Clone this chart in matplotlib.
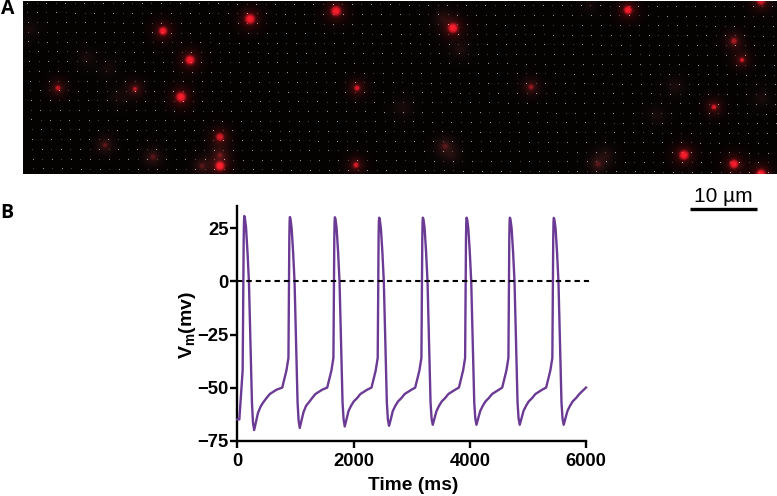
import numpy as np
import matplotlib
matplotlib.use("Agg")
import matplotlib.pyplot as plt

W, H = 777, 496

plt.rcParams['font.family'] = ['Liberation Sans', 'DejaVu Sans']
plt.rcParams['mathtext.fontset'] = 'custom'
plt.rcParams['mathtext.bf'] = 'Liberation Sans:bold'
plt.rcParams['mathtext.rm'] = 'Liberation Sans:bold'

# panel A, spot centres in image pixels, radius and brightness read by eye
spot_x = [163, 250, 190, 181, 58, 135, 220, 220, 220, 105, 153, 202,
          336, 453, 357, 356, 445, 443, 460, 403, 452,
          628, 761, 734, 742, 531, 714, 684, 734, 761, 598, 606, 675, 657, 761,
          86, 118, 108, 30, 590]
spot_y = [31, 19, 60, 97, 88, 89, 137, 155, 166, 145, 157, 166,
          11, 28, 88, 165, 146, 18, 50, 108, 155,
          10, 1, 41, 60, 87, 107, 155, 164, 174, 164, 155, 86, 115, 98,
          58, 97, 68, 30, 5]
spot_r = [3.0, 3.6, 3.4, 3.6, 1.8, 1.6, 2.8, 1.6, 3.4, 1.6, 2.0, 1.8,
          3.6, 3.6, 2.0, 2.0, 2.0, 3.0, 3.0, 4.0, 3.0,
          3.0, 3.0, 2.2, 1.6, 1.8, 1.9, 3.5, 3.2, 3.4, 2.0, 3.0, 3.0, 3.0, 3.0,
          3.0, 3.0, 3.0, 3.0, 3.0]
spot_amp = [1.0, 1.0, 1.0, 1.0, 0.85, 0.8, 0.9, 0.5, 1.0, 0.5, 0.45, 0.45,
            1.0, 1.0, 0.9, 0.9, 0.45, 0.18, 0.16, 0.14, 0.16,
            1.0, 0.9, 0.75, 0.9, 0.7, 0.9, 1.0, 1.0, 1.0, 0.45, 0.16, 0.16, 0.14, 0.14,
            0.13, 0.12, 0.12, 0.12, 0.12]

# panel B, membrane potential trace, one row per action potential
time_ms = [
    0, 35, 92, 95, 100, 105, 110, 115, 120, 130, 150, 175, 200, 225, 252, 270, 290, 315, 355, 400, 445, 500, 560, 675, 773,
    845, 880, 885, 890, 895, 900, 905, 915, 935, 960, 985, 1010, 1037, 1055, 1075, 1100, 1140, 1185, 1230, 1285, 1345, 1460, 1547,
    1619, 1654, 1659, 1664, 1669, 1674, 1679, 1689, 1709, 1734, 1759, 1784, 1811, 1829, 1849, 1874, 1914, 1959, 2004, 2059, 2119, 2234, 2309,
    2381, 2416, 2421, 2426, 2431, 2436, 2441, 2451, 2471, 2496, 2521, 2546, 2573, 2591, 2611, 2636, 2676, 2721, 2766, 2821, 2881, 2996, 3061,
    3133, 3168, 3173, 3178, 3183, 3188, 3193, 3203, 3223, 3248, 3273, 3298, 3325, 3343, 3363, 3388, 3428, 3473, 3518, 3573, 3633, 3748, 3813,
    3885, 3920, 3925, 3930, 3935, 3940, 3945, 3955, 3975, 4000, 4025, 4050, 4077, 4095, 4115, 4140, 4180, 4225, 4270, 4325, 4385, 4500, 4558,
    4630, 4665, 4670, 4675, 4680, 4685, 4690, 4700, 4720, 4745, 4770, 4795, 4822, 4840, 4860, 4885, 4925, 4970, 5015, 5070, 5130, 5245, 5314,
    5386, 5421, 5426, 5431, 5436, 5441, 5446, 5456, 5476, 5501, 5526, 5551, 5578, 5596, 5616, 5641, 5681, 5726, 5771, 5826, 5886, 6000,
]
voltage_mv = [
    -65, -65, -42, -33, -15, 5, 20, 28, 30.8, 30, 25.5, 14, 0, -27, -57, -66.5, -70, -67, -62, -59, -57, -55, -53, -51, -50,
    -42, -36, -15, 5, 20, 28, 30.3, 29.5, 25, 14, 0, -27, -57, -65.5, -69, -66, -61.5, -58.5, -57, -55, -53, -51, -50,
    -42, -36, -15, 5, 20, 28, 30.2, 29.5, 25, 14, 0, -27, -57, -65, -68.3, -65.5, -61, -58.5, -56.5, -55, -53, -51, -50,
    -42, -36, -15, 5, 20, 28, 30, 29.3, 25, 14, 0, -27, -57, -65, -68, -65.5, -61, -58.5, -56.5, -55, -53, -51, -50,
    -42, -36, -15, 5, 20, 28, 30, 29.3, 25, 14, 0, -27, -57, -64.5, -67.5, -65, -61, -58.5, -56.5, -55, -53, -51, -50,
    -42, -36, -15, 5, 20, 28, 30, 29.3, 25, 14, 0, -27, -57, -64.5, -67.5, -65, -61, -58.5, -56.5, -55, -53, -51, -50,
    -42, -36, -15, 5, 20, 28, 30, 29.3, 25, 14, 0, -27, -57, -64.5, -67.5, -65, -61, -58.5, -56.5, -55, -53, -51, -50,
    -42, -36, -15, 5, 20, 28, 29.9, 29.2, 25, 14, 0, -27, -57, -64.5, -67.5, -65, -61, -58.5, -56.5, -55, -53, -50,
]

x_ticks = [0, 2000, 4000, 6000]
y_ticks = [-75, -50, -25, 0, 25]


def px_axes(fig, x0, y0, x1, y1):
    # y measured from the top of the picture
    return fig.add_axes([x0 / W, 1 - y1 / H, (x1 - x0) / W, (y1 - y0) / H])


fig = plt.figure(figsize=(W / 100, H / 100), dpi=100)

# panel A
ax_img = px_axes(fig, 23, 1, 777, 174)
xx, yy = np.meshgrid(np.arange(23, 777) + 0.5, np.arange(1, 174) + 0.5)
img = np.zeros(xx.shape + (3,))
img[..., 0] = 0.02
img[..., 1] = 0.01
img[..., 2] = 0.01

# lattice of faint points, written into the image so they stay one pixel wide
col, row = np.meshgrid(np.arange(80), np.arange(18))
dot_x = np.round(4 + col * 9.55 + row * 0.35).astype(int)
dot_y = np.round(1.5 + row * 9.75 + col * 0.05).astype(int)
keep = (dot_x < xx.shape[1]) & (dot_y < xx.shape[0])
level = np.where((col + row) % 2 == 0, 0.62, 0.26)
img[dot_y[keep], dot_x[keep], :] += level[keep][:, None]

for x, y, r, a in zip(spot_x, spot_y, spot_r, spot_amp):
    d2 = (xx - x) ** 2 + (yy - y) ** 2
    dim = 1 - a
    core = a ** 2 * np.exp(-(d2 / (r * 1.35) ** 2) ** 2)
    mid = a * 0.28 * np.exp(-d2 / (2 * (r + 1.5) ** 2))
    halo = a * (0.2 + 0.25 * dim) * np.exp(-d2 / (2 * (r + 5.5) ** 2))
    img[..., 0] += 0.62 * core + 0.7 * mid + 0.7 * halo
    img[..., 1] += 0.07 * core + (0.05 + 0.15 * dim) * mid + (0.08 + 0.40 * dim) * halo
    img[..., 2] += 0.12 * core + (0.08 + 0.12 * dim) * mid + (0.10 + 0.34 * dim) * halo
ax_img.imshow(np.clip(img, 0, 1), extent=(23, 777, 174, 1), aspect='auto',
              interpolation='bilinear')
ax_img.set_xlim(23, 777)
ax_img.set_ylim(174, 1)
ax_img.axis('off')

fig.text(1 / W, 1 - 8.5 / H, 'A', fontsize=14, fontweight='bold', family='Open Sans',
         ha='left', va='center')
fig.text(0 / W, 1 - 212.5 / H, 'B', fontsize=14, fontweight='bold', family='Open Sans',
         ha='left', va='center')

# scale bar
fig.add_artist(plt.Line2D([690 / W, 757 / W], [1 - 209 / H, 1 - 209 / H],
                          color='black', lw=2.4, solid_capstyle='butt'))
fig.text(723.5 / W, 1 - 201.5 / H, '10 \u00b5m', fontsize=15, ha='center', va='baseline',
         family=['Liberation Sans', 'DejaVu Sans'])

# panel B
ax = px_axes(fig, 237.3, 206, 586, 440.7)
ax.plot(time_ms, voltage_mv, color='#6b3a94', lw=1.7, clip_on=False,
        solid_joinstyle='round', zorder=3)
ax.plot([0, 6050], [0, 0], color='black', lw=1.5, dashes=(2.6, 1.9), clip_on=False, zorder=4)
ax.set_xlim(0, 6000)
ax.set_ylim(-75, 35.5)
ax.set_xticks(x_ticks)
ax.set_yticks(y_ticks)
ax.tick_params(axis='x', length=5, width=1.7, pad=4, labelsize=13.3)
ax.tick_params(axis='y', length=5.2, width=1.7, pad=1, labelsize=13.3)
for lab in ax.get_xticklabels() + ax.get_yticklabels():
    lab.set_fontweight('bold')
for side in ['top', 'right']:
    ax.spines[side].set_visible(False)
for side in ['left', 'bottom']:
    ax.spines[side].set_linewidth(1.7)

fig.text(413 / W, 1 - 486 / H, 'Time (ms)', fontsize=13.8, fontweight='bold',
         ha='center', va='center')
fig.text(187 / W, 1 - 325 / H, r'$\mathbf{V_m}$(mv)', fontsize=14, fontweight='bold',
         rotation=90, ha='center', va='center')

fig.savefig('out.png', dpi=100)
plt.close(fig)
